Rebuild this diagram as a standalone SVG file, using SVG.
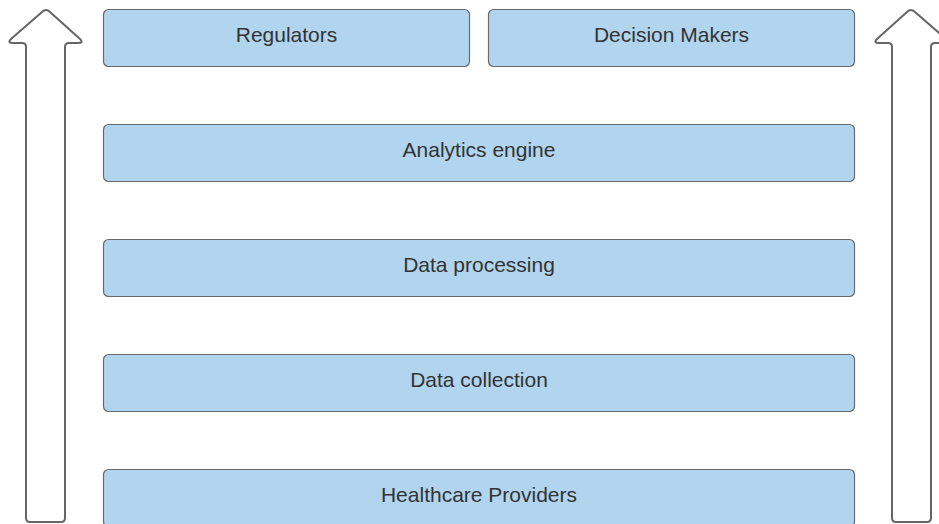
<svg xmlns="http://www.w3.org/2000/svg" width="939" height="524" viewBox="0 0 939 524">
<style>
.box{fill:#b1d5ef;stroke:#6a6a6a;stroke-width:1.2}
.lbl{font-family:"Liberation Sans",Arial,sans-serif;font-size:21px;fill:#333333;text-anchor:middle}
.arr{fill:#ffffff;stroke:#666666;stroke-width:2;stroke-linejoin:round}
</style>
<rect width="939" height="524" fill="#ffffff"/>
<g id="connectors">
<path class="arr" d="M30 522 Q26 522 26 518 L26 47 Q26 43 22 43 L13 43 Q7 43 11 39 L42 12 Q46 8 50 12 L80 39 Q84 43 78 43 L69 43 Q65 43 65 47 L65 518 Q65 522 61 522 Z"/>
<path class="arr" d="M896 522 Q892 522 892 518 L892 47 Q892 43 888 43 L879 43 Q873 43 877 39 L907 12 Q911 8 915 12 L946 39 Q950 43 944 43 L935 43 Q931 43 931 47 L931 518 Q931 522 927 522 Z"/>
</g>
<g id="regulators"><rect class="box" x="103.5" y="9.5" width="366" height="57" rx="5"/><text class="lbl" x="286.5" y="42">Regulators</text></g>
<g id="decision-makers"><rect class="box" x="488.5" y="9.5" width="366" height="57" rx="5"/><text class="lbl" x="671.5" y="42">Decision Makers</text></g>
<g id="analytics-engine"><rect class="box" x="103.5" y="124.5" width="751" height="57" rx="5"/><text class="lbl" x="479" y="157">Analytics engine</text></g>
<g id="data-processing"><rect class="box" x="103.5" y="239.5" width="751" height="57" rx="5"/><text class="lbl" x="479" y="272">Data processing</text></g>
<g id="data-collection"><rect class="box" x="103.5" y="354.5" width="751" height="57" rx="5"/><text class="lbl" x="479" y="387">Data collection</text></g>
<g id="healthcare-providers"><rect class="box" x="103.5" y="469.5" width="751" height="57" rx="5"/><text class="lbl" x="479" y="502">Healthcare Providers</text></g>
</svg>
